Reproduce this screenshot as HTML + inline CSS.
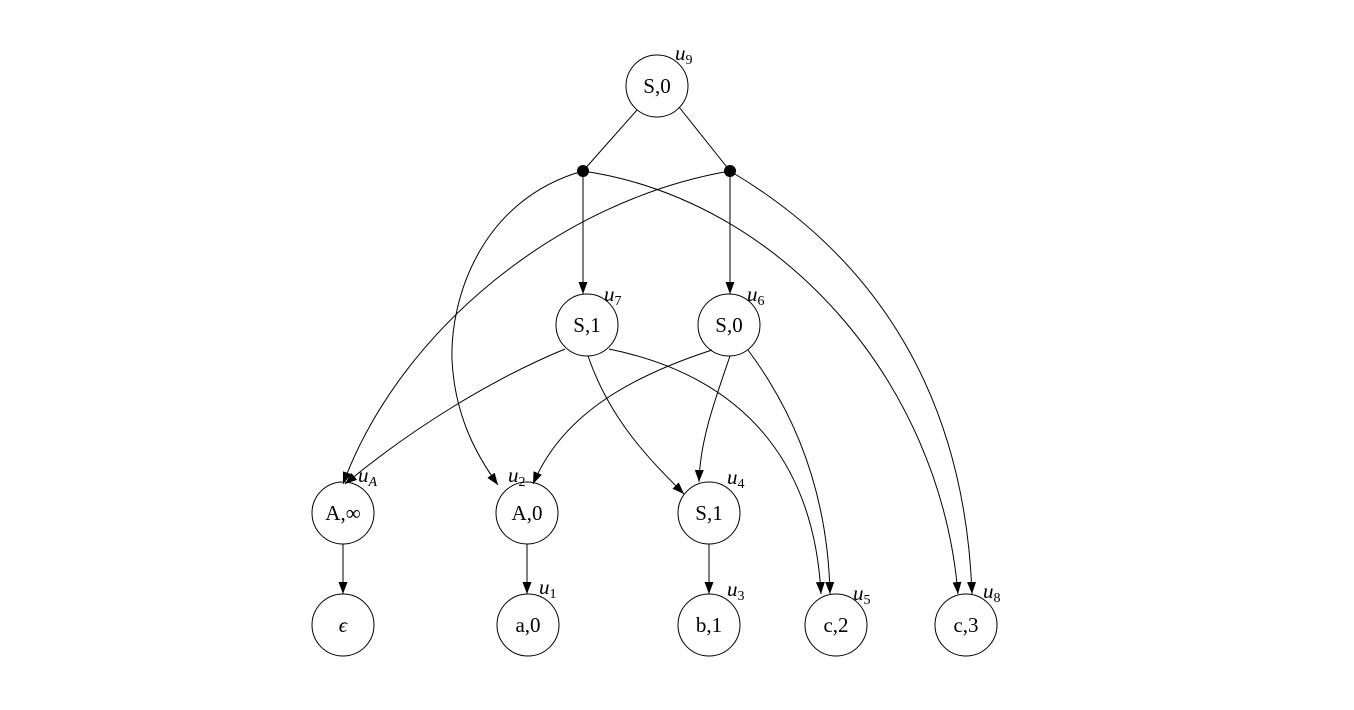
<!DOCTYPE html>
<html><head><meta charset="utf-8"><style>
html,body{margin:0;padding:0;background:#fff;width:1354px;height:710px;overflow:hidden}
text{font-family:"Liberation Serif",serif;}
</style></head><body>
<svg width="1354" height="710" viewBox="0 0 1354 710" xmlns="http://www.w3.org/2000/svg">
<defs><marker id="a" markerWidth="12" markerHeight="9" refX="12" refY="4.5" orient="auto" markerUnits="userSpaceOnUse"><path d="M0,0 L12,4.5 L0,9 z" fill="#000"/></marker></defs>
<g fill="none" stroke="#000" stroke-width="1">
<circle cx="657" cy="86" r="31"/>
<circle cx="587" cy="325" r="31"/>
<circle cx="729" cy="325" r="31"/>
<circle cx="343" cy="513" r="31"/>
<circle cx="527" cy="513" r="31"/>
<circle cx="709" cy="513" r="31"/>
<circle cx="343" cy="625" r="31"/>
<circle cx="528" cy="625" r="31"/>
<circle cx="709" cy="625" r="31"/>
<circle cx="836" cy="625" r="31"/>
<circle cx="966" cy="625" r="31"/>
<line x1="637" y1="110" x2="583" y2="171"/>
<line x1="679" y1="107" x2="730" y2="171"/>
<line x1="583" y1="171" x2="583" y2="294" marker-end="url(#a)"/>
<line x1="730" y1="171" x2="730" y2="294" marker-end="url(#a)"/>
<path d="M583,171 C480,200 450,300 452,360 C455,420 480,460 498,485" marker-end="url(#a)"/>
<path d="M583,171 C780,200 940,380 958,594" marker-end="url(#a)"/>
<path d="M730,171 C560,200 400,330 343,484" marker-end="url(#a)"/>
<path d="M730,171 C880,260 965,400 972,594" marker-end="url(#a)"/>
<path d="M565,349 C490,380 410,430 345,484" marker-end="url(#a)"/>
<path d="M588,356 C610,420 650,460 684,494" marker-end="url(#a)"/>
<path d="M609,349 C760,380 815,480 821,594" marker-end="url(#a)"/>
<path d="M712,350 C620,380 560,420 533,484" marker-end="url(#a)"/>
<path d="M730,356 C715,400 700,440 699,482" marker-end="url(#a)"/>
<path d="M748,350 C800,420 828,500 830,594" marker-end="url(#a)"/>
<line x1="343" y1="544" x2="343" y2="594" marker-end="url(#a)"/>
<line x1="527" y1="544" x2="527" y2="594" marker-end="url(#a)"/>
<line x1="709" y1="544" x2="709" y2="594" marker-end="url(#a)"/>
</g>
<circle cx="583" cy="171" r="6" fill="#000"/>
<circle cx="730" cy="171" r="6" fill="#000"/>
<g font-size="21" text-anchor="middle" fill="#000">
<text x="657" y="93">S,0</text>
<text x="587" y="332">S,1</text>
<text x="729" y="332">S,0</text>
<text x="343" y="520">A,∞</text>
<text x="527" y="520">A,0</text>
<text x="709" y="520">S,1</text>
<text x="343" y="632" font-style="italic">ϵ</text>
<text x="528" y="632">a,0</text>
<text x="709" y="632">b,1</text>
<text x="836" y="632">c,2</text>
<text x="966" y="632">c,3</text>
</g>
<g font-size="21" font-style="italic" fill="#000">
<text x="675" y="60">u<tspan font-size="14" font-style="normal" dy="4">9</tspan></text>
<text x="604" y="301">u<tspan font-size="14" font-style="normal" dy="4">7</tspan></text>
<text x="747" y="301">u<tspan font-size="14" font-style="normal" dy="4">6</tspan></text>
<text x="358" y="482">u<tspan font-size="14" dy="4">A</tspan></text>
<text x="508" y="482">u<tspan font-size="14" font-style="normal" dy="4">2</tspan></text>
<text x="727" y="484">u<tspan font-size="14" font-style="normal" dy="4">4</tspan></text>
<text x="539" y="594">u<tspan font-size="14" font-style="normal" dy="4">1</tspan></text>
<text x="727" y="596">u<tspan font-size="14" font-style="normal" dy="4">3</tspan></text>
<text x="853" y="600">u<tspan font-size="14" font-style="normal" dy="4">5</tspan></text>
<text x="983" y="598">u<tspan font-size="14" font-style="normal" dy="4">8</tspan></text>
</g>
</svg>
</body></html>
